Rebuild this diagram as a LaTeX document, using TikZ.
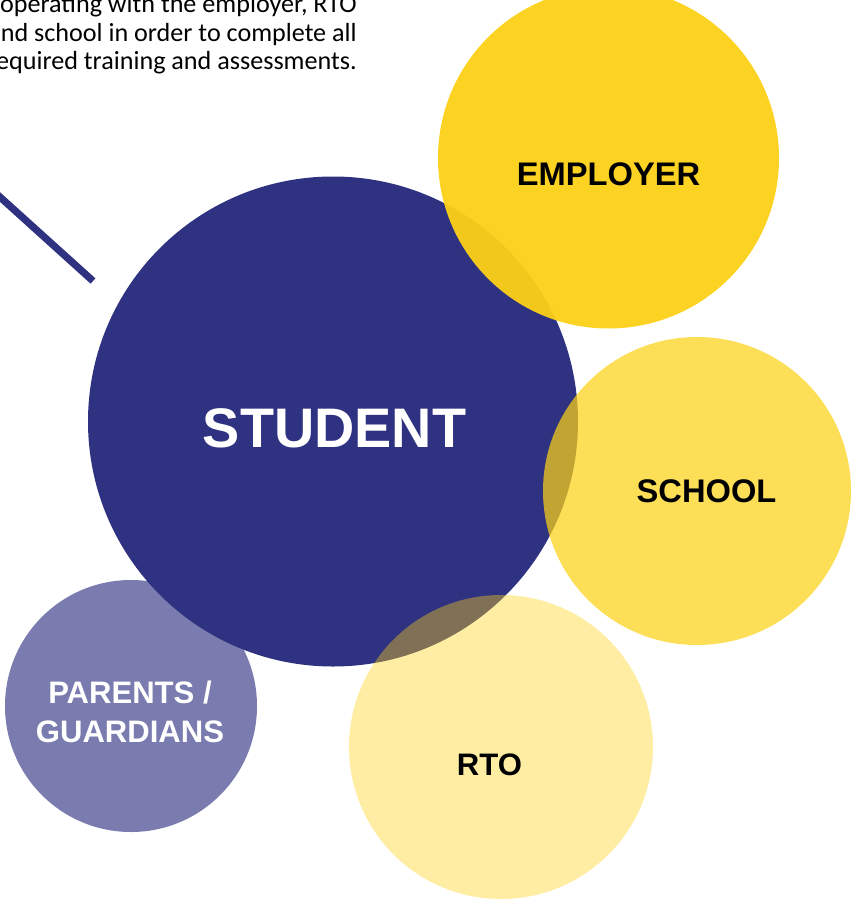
\documentclass[tikz,border=0pt]{standalone}
\usepackage{fontspec}
\setmainfont{Liberation Sans}
\newfontfamily\bodyfont{Carlito}
\definecolor{navy}{RGB}{46,50,129}
\definecolor{mustard}{RGB}{252,209,22}
\definecolor{lavender}{RGB}{122,123,174}
\begin{document}
\begin{tikzpicture}[x=0.75pt,y=-0.75pt,
  disc/.style={circle, inner sep=0pt, draw=none},
  label/.style={font=\fontsize{24.5}{29.25}\selectfont\bfseries, inner sep=0pt, anchor=base},
  pointer/.style={navy, line width=5.4pt}]
\useasboundingbox (0,0) rectangle (856,899);
\clip (0,0) rectangle (856,899);

% circles, back to front
\node[disc, fill=lavender, minimum size=189pt] (parents) at (131,706) {};
\node[disc, fill=navy, minimum size=367.5pt] (student) at (333,421.5) {};
\node[disc, fill=mustard, fill opacity=0.95, minimum size=255.75pt] (employer) at (608.5,158) {};
\node[disc, fill=mustard, fill opacity=0.72, minimum size=231pt] (school) at (697,491) {};
\node[disc, fill=mustard, fill opacity=0.4, minimum size=228pt] (rto) at (501,747) {};

% labels
\node[label, white, font=\fontsize{41.8}{50}\selectfont\bfseries] (studentText) at (334.5,447) {STUDENT};
\node[label, black] (employerText) at (608.5,185) {EMPLOYER};
\node[label, black] (schoolText) at (706.5,502) {SCHOOL};
\node[label, black, font=\fontsize{23.3}{29.25}\selectfont\bfseries] (rtoText) at (489.5,775) {RTO};
\node[label, white, font=\fontsize{23.3}{29.25}\selectfont\bfseries] (parentsText) at (130,703)
  {\begin{tabular}[t]{@{}c@{}}PARENTS /\\GUARDIANS\end{tabular}};

% explanatory text, right-aligned
\node[anchor=base east, inner sep=0pt, text=black] (note) at (357,13)
  {\bodyfont\fontsize{19.6}{21.2}\selectfont
   \begin{tabular}[t]{@{}r@{}}cooperating with the employer, RTO\\
   and school in order to complete all\\
   required training and assessments.\end{tabular}};

% pointer line
\coordinate (pointerStart) at (-20,179);
\coordinate (pointerEnd) at (93,281);
\draw[pointer] (pointerStart) -- (pointerEnd);
\end{tikzpicture}
\end{document}
